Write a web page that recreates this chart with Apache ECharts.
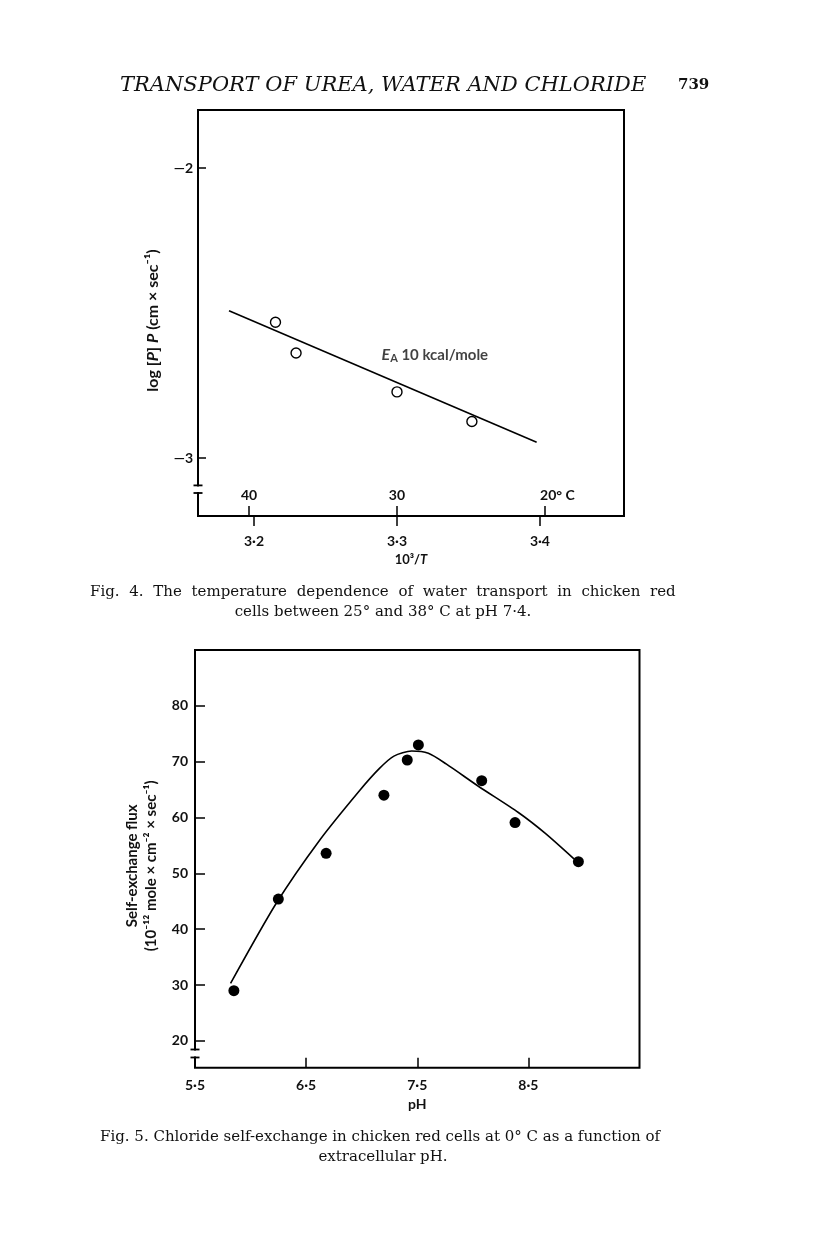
<!DOCTYPE html>
<html>
<head>
<meta charset="utf-8">
<script src="https://cdn.jsdelivr.net/npm/echarts@6/dist/echarts.min.js"></script>
<style>
html,body{margin:0;padding:0;background:#fff;}
#c{width:816px;height:1234px;}
</style>
</head>
<body>
<div id="c"></div>
<script>
// ---------- Fig. 4 data ----------
const fig4X = [3.215, 3.2294, 3.300, 3.3524];          // 10^3/T
const fig4Y = [-2.532, -2.638, -2.772, -2.874];         // log P
const fig4FitX = [3.1825, 3.3977];
const fig4FitY = [-2.492, -2.946];
const fig4XTicks = [3.2, 3.3, 3.4];
const fig4XTickLabels = ['3·2', '3·3', '3·4'];
const fig4TempTicks = [3.1965, 3.3, 3.4035];
const fig4TempLabels = ['40', '30', '20° C'];
const fig4YTicks = [-2, -3];
const fig4YTickLabels = ['—2', '—3'];
const fig4Range = { xMin: 3.1608, xMax: 3.4588, yMin: -3.2, yMax: -1.8 };
const fig4Break = [-3.0945, -3.1207];
const fig4NoteAt = [3.2892, -2.644];

// ---------- Fig. 5 data ----------
const fig5PH = [5.85, 6.25, 6.68, 7.2, 7.41, 7.51, 8.08, 8.38, 8.95];
const fig5Flux = [29.0, 45.4, 53.6, 64.0, 70.3, 73.0, 66.6, 59.1, 52.1];
const fig5CurvePH = [5.82, 6.23, 6.62, 6.98, 7.16, 7.29, 7.45, 7.6, 7.76, 8.05, 8.41, 8.65, 8.91];
const fig5CurveFlux = [30.3, 44.6, 55.9, 64.8, 68.8, 71.0, 71.9, 71.5, 69.6, 65.6, 60.9, 57.2, 52.6];
const fig5XTicks = [6.5, 7.5, 8.5];
const fig5XLabelVals = [5.5, 6.5, 7.5, 8.5];
const fig5XLabels = ['5·5', '6·5', '7·5', '8·5'];
const fig5YTicks = [20, 30, 40, 50, 60, 70, 80];
const fig5Range = { xMin: 5.5, xMax: 9.5, yMin: 15.2, yMax: 90 };
const fig5Break = [18.46, 17.03];

const SANS = 'Lato, "Open Sans", sans-serif';
const SERIF = '"DejaVu Serif", serif';
const INK = '#111';

function pick(vals, labels) {
  return function (v) {
    const i = vals.findIndex(t => Math.abs(t - v) < 1e-6);
    return i >= 0 ? labels[i] : '';
  };
}
function justify(line) {
  return line.split(' ').join('{g| }');
}
const tickStyle = { color: '#000', width: 1.5 };
const labelStyle = { color: INK, fontFamily: SANS, fontSize: 14, fontWeight: 'bold' };
const capStyle = { fontFamily: SERIF, fontWeight: 'normal', fontSize: 15, color: INK };

const chart = echarts.init(document.getElementById('c'), null, { renderer: 'canvas' });

const option = {
  backgroundColor: '#fff',
  animation: false,
  title: [
    { text: 'TRANSPORT OF UREA, WATER AND CHLORIDE', left: 120, top: 75, padding: 0,
      textStyle: { fontFamily: SERIF, fontStyle: 'italic', fontWeight: 'normal', fontSize: 21, color: INK } },
    { text: '739', left: 678, top: 78, padding: 0,
      textStyle: { fontFamily: SERIF, fontWeight: 'bold', fontSize: 15, color: INK } },
    { text: justify('Fig. 4. The temperature dependence of water transport in chicken red'), left: 90, top: 585, padding: 0,
      textStyle: Object.assign({ rich: { g: Object.assign({ width: 9.7 }, capStyle) } }, capStyle) },
    { text: 'cells between 25° and 38° C at pH 7·4.', left: 383, top: 605, textAlign: 'center', padding: 0,
      textStyle: capStyle },
    { text: 'Fig. 5. Chloride self-exchange in chicken red cells at 0° C as a function of', left: 100, top: 1130, padding: 0,
      textStyle: capStyle },
    { text: 'extracellular pH.', left: 383, top: 1150, textAlign: 'center', padding: 0,
      textStyle: capStyle }
  ],
  grid: [
    { left: 198, top: 110, width: 426, height: 406, show: true, borderColor: '#000', borderWidth: 2, backgroundColor: 'transparent', containLabel: false },
    { left: 195, top: 650, width: 444.5, height: 417.7, show: true, borderColor: '#000', borderWidth: 2, backgroundColor: 'transparent', containLabel: false }
  ],
  xAxis: [
    { gridIndex: 0, type: 'value', position: 'bottom', min: fig4Range.xMin, max: fig4Range.xMax,
      axisLine: { show: false }, splitLine: { show: false },
      axisTick: { show: true, inside: false, length: 10, lineStyle: tickStyle, customValues: fig4XTicks },
      axisLabel: Object.assign({ margin: 18, customValues: fig4XTicks, formatter: pick(fig4XTicks, fig4XTickLabels) }, labelStyle),
      name: '10³/{i|T}', nameLocation: 'middle', nameGap: 37,
      nameTextStyle: { color: INK, fontFamily: SANS, fontSize: 13, fontWeight: 'bold',
        rich: { i: { fontFamily: SANS, fontSize: 13, fontStyle: 'italic', fontWeight: 'bold', color: INK } } } },
    { gridIndex: 0, type: 'value', position: 'bottom', min: fig4Range.xMin, max: fig4Range.xMax,
      axisLine: { show: false }, splitLine: { show: false },
      axisTick: { show: true, inside: true, length: 10, lineStyle: tickStyle, customValues: fig4TempTicks },
      axisLabel: Object.assign({ inside: true, margin: 14, customValues: fig4TempTicks,
        formatter: function (v) {
          const s = pick(fig4TempTicks, fig4TempLabels)(v);
          return s.indexOf('C') >= 0 ? '{r|' + s + '}' : s;
        },
        rich: { r: { color: INK, fontFamily: SANS, fontSize: 14, fontWeight: 'bold', padding: [0, 0, 0, 25] } } }, labelStyle) },
    { gridIndex: 1, type: 'value', position: 'bottom', min: fig5Range.xMin, max: fig5Range.xMax,
      axisLine: { show: false }, splitLine: { show: false },
      axisTick: { show: true, inside: true, length: 10, lineStyle: tickStyle, customValues: fig5XTicks },
      axisLabel: Object.assign({ margin: 11, customValues: fig5XLabelVals, formatter: pick(fig5XLabelVals, fig5XLabels) }, labelStyle),
      name: 'pH', nameLocation: 'middle', nameGap: 30,
      nameTextStyle: { color: INK, fontFamily: SANS, fontSize: 14, fontWeight: 'bold' } }
  ],
  yAxis: [
    { gridIndex: 0, type: 'value', min: fig4Range.yMin, max: fig4Range.yMax,
      axisLine: { show: false }, splitLine: { show: false },
      axisTick: { show: true, inside: true, length: 8, lineStyle: tickStyle, customValues: fig4YTicks },
      axisLabel: Object.assign({ margin: 5, customValues: fig4YTicks, formatter: pick(fig4YTicks, fig4YTickLabels) }, labelStyle),
      name: 'log [{i|P}] {i|P} (cm × sec⁻¹)', nameLocation: 'middle', nameGap: 37, nameRotate: 90,
      nameTextStyle: { color: INK, fontFamily: SANS, fontSize: 16, fontWeight: 'bold', padding: [0, 15, 0, 0],
        rich: { i: { fontFamily: SANS, fontSize: 16, fontStyle: 'italic', fontWeight: 'bold', color: INK } } } },
    { gridIndex: 1, type: 'value', min: fig5Range.yMin, max: fig5Range.yMax,
      axisLine: { show: false }, splitLine: { show: false },
      axisTick: { show: true, inside: true, length: 10, lineStyle: tickStyle, customValues: fig5YTicks },
      axisLabel: Object.assign({ margin: 7, customValues: fig5YTicks }, labelStyle),
      name: 'Self-exchange flux\n(10⁻¹² mole × cm⁻² × sec⁻¹)', nameLocation: 'middle', nameGap: 28, nameRotate: 90,
      nameTextStyle: { color: INK, fontFamily: SANS, fontSize: 15, fontWeight: 'bold', lineHeight: 19, align: 'center', padding: [0, 14, 0, 0] } }
  ],
  series: [
    { name: 'fit4', type: 'line', xAxisIndex: 0, yAxisIndex: 0, symbol: 'none', silent: true,
      lineStyle: { color: '#000', width: 1.6 },
      data: fig4FitX.map((x, i) => [x, fig4FitY[i]]) },
    { name: 'pts4', type: 'scatter', xAxisIndex: 0, yAxisIndex: 0, symbol: 'circle', symbolSize: 10,
      itemStyle: { color: '#fff', borderColor: '#000', borderWidth: 1.4, opacity: 1 },
      data: fig4X.map((x, i) => [x, fig4Y[i]]), z: 5 },
    { name: 'note4', type: 'scatter', xAxisIndex: 0, yAxisIndex: 0, symbolSize: 0, silent: true,
      data: [fig4NoteAt],
      label: { show: true, position: [0, 0], align: 'left', verticalAlign: 'middle',
        formatter: '{e|E}{a|A}{t| 10 kcal/mole}',
        rich: {
          e: { fontFamily: SANS, fontSize: 16, fontStyle: 'italic', fontWeight: 'bold', color: INK },
          a: { fontFamily: SANS, fontSize: 11, fontWeight: 'bold', color: INK, verticalAlign: 'top', padding: [8, 0, 0, 0] },
          t: { fontFamily: SANS, fontSize: 15, fontWeight: 'bold', color: INK }
        } } },
    { name: 'curve5', type: 'line', xAxisIndex: 2, yAxisIndex: 1, symbol: 'none', smooth: 0.25, silent: true,
      lineStyle: { color: '#000', width: 1.6 },
      data: fig5CurvePH.map((x, i) => [x, fig5CurveFlux[i]]) },
    { name: 'pts5', type: 'scatter', xAxisIndex: 2, yAxisIndex: 1, symbol: 'circle', symbolSize: 11,
      itemStyle: { color: '#000', opacity: 1 },
      data: fig5PH.map((x, i) => [x, fig5Flux[i]]), z: 5 }
  ]
};
chart.setOption(option);

// axis-break marks on the left frame, placed through the axes' own scales
function breakMarks(xAxisIndex, yAxisIndex, xVal, vals, capHalf) {
  const p1 = chart.convertToPixel({ xAxisIndex: xAxisIndex, yAxisIndex: yAxisIndex }, [xVal, vals[0]]);
  const p2 = chart.convertToPixel({ xAxisIndex: xAxisIndex, yAxisIndex: yAxisIndex }, [xVal, vals[1]]);
  const x = p1[0], ya = Math.min(p1[1], p2[1]), yb = Math.max(p1[1], p2[1]);
  return [
    { type: 'rect', z: 100, shape: { x: x - 3, y: ya + 1, width: 6, height: yb - ya - 2 }, style: { fill: '#fff' } },
    { type: 'line', z: 101, shape: { x1: x - capHalf, y1: ya, x2: x + capHalf, y2: ya }, style: { stroke: '#000', lineWidth: 1.8 } },
    { type: 'line', z: 101, shape: { x1: x - capHalf, y1: yb, x2: x + capHalf, y2: yb }, style: { stroke: '#000', lineWidth: 1.8 } }
  ];
}
chart.setOption({
  graphic: breakMarks(0, 0, fig4Range.xMin, fig4Break, 4.5).concat(breakMarks(2, 1, fig5Range.xMin, fig5Break, 4.5))
});
</script>
</body>
</html>
